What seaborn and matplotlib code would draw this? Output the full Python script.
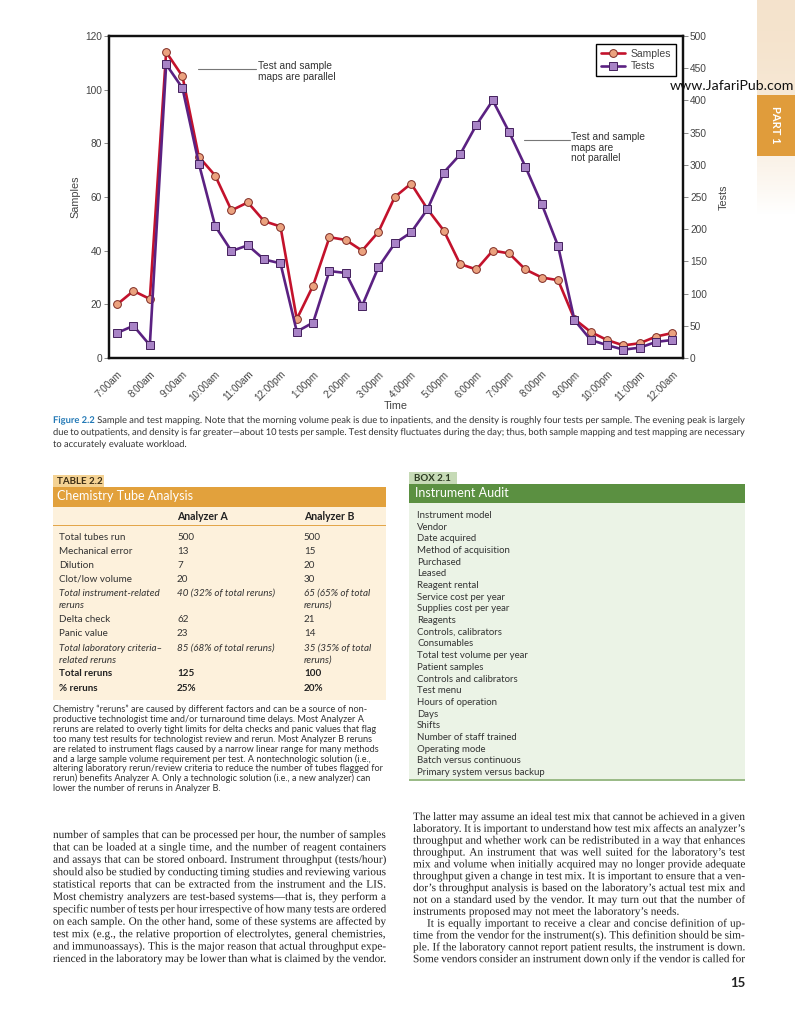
import numpy as np
import pandas as pd
import matplotlib
matplotlib.use("Agg")
import matplotlib.pyplot as plt
import matplotlib.transforms as mtransforms
import matplotlib.patheffects as pe
from matplotlib.patches import Rectangle
from matplotlib import font_manager
import seaborn as sns

# ---------------- chart data ----------------
hour_labels = ["7:00am", "8:00am", "9:00am", "10:00am", "11:00am", "12:00pm",
               "1:00pm", "2:00pm", "3:00pm", "4:00pm", "5:00pm", "6:00pm",
               "7:00pm", "8:00pm", "9:00pm", "10:00pm", "11:00pm", "12:00am"]
samples = [20, 25, 22, 114, 105, 75, 68, 55, 58, 51, 49, 14.5, 27, 45, 44, 40, 47,
           60, 65, 55.5, 47.5, 35, 33, 40, 39, 33, 30, 29, 14.5, 9.7, 6.7, 4.7, 5.5, 8, 9.3]
tests = [39, 50, 20, 456, 419, 302, 205, 166, 175, 153, 147, 41, 55, 135, 132, 81, 141,
         178, 195, 231, 288, 316, 362, 400, 351, 297, 239, 174, 59, 28, 20, 13, 16, 25, 28]
samples_ticks = [0, 20, 40, 60, 80, 100, 120]
tests_ticks = [0, 50, 100, 150, 200, 250, 300, 350, 400, 450, 500]

# ---------------- page text ----------------
caption_lines = [
    "Figure 2.2 Sample and test mapping. Note that the morning volume peak is due to inpatients, and the density is roughly four tests per sample. The evening peak is largely",
    "due to outpatients, and density is far greater\u2014about 10 tests per sample. Test density fluctuates during the day; thus, both sample mapping and test mapping are necessary",
    "to accurately evaluate workload.",
]
table_rows = ["Total tubes run", "Mechanical error", "Dilution", "Clot/low volume",
              "Total instrument-related\nreruns", "Delta check", "Panic value",
              "Total laboratory criteria\u2013\nrelated reruns", "Total reruns", "% reruns"]
table_a = ["500", "13", "7", "20", "40 (32% of total reruns)", "62", "23",
           "85 (68% of total reruns)", "125", "25%"]
table_b = ["500", "15", "20", "30", "65 (65% of total\nreruns)", "21", "14",
           "35 (35% of total\nreruns)", "100", "20%"]
table_style = ["normal", "normal", "normal", "normal", "italic", "normal", "normal",
               "italic", "bold", "bold"]
table_note = [
    "Chemistry \u201creruns\u201d are caused by different factors and can be a source of non-",
    "productive technologist time and/or turnaround time delays. Most Analyzer A",
    "reruns are related to overly tight limits for delta checks and panic values that flag",
    "too many test results for technologist review and rerun. Most Analyzer B reruns",
    "are related to instrument flags caused by a narrow linear range for many methods",
    "and a large sample volume requirement per test. A nontechnologic solution (i.e.,",
    "altering laboratory rerun/review criteria to reduce the number of tubes flagged for",
    "rerun) benefits Analyzer A. Only a technologic solution (i.e., a new analyzer) can",
    "lower the number of reruns in Analyzer B.",
]
box_items = ["Instrument model", "Vendor", "Date acquired", "Method of acquisition",
             "Purchased", "Leased", "Reagent rental", "Service cost per year",
             "Supplies cost per year", "Reagents", "Controls, calibrators", "Consumables",
             "Total test volume per year", "Patient samples", "Controls and calibrators",
             "Test menu", "Hours of operation", "Days", "Shifts", "Number of staff trained",
             "Operating mode", "Batch versus continuous", "Primary system versus backup"]
body_left = [
    "number of samples that can be processed per hour, the number of samples",
    "that can be loaded at a single time, and the number of reagent containers",
    "and assays that can be stored onboard. Instrument throughput (tests/hour)",
    "should also be studied by conducting timing studies and reviewing various",
    "statistical reports that can be extracted from the instrument and the LIS.",
    "Most chemistry analyzers are test-based systems\u2014that is, they perform a",
    "specific number of tests per hour irrespective of how many tests are ordered",
    "on each sample. On the other hand, some of these systems are affected by",
    "test mix (e.g., the relative proportion of electrolytes, general chemistries,",
    "and immunoassays). This is the major reason that actual throughput expe-",
    "rienced in the laboratory may be lower than what is claimed by the vendor.",
]
body_right = [
    "The latter may assume an ideal test mix that cannot be achieved in a given",
    "laboratory. It is important to understand how test mix affects an analyzer\u2019s",
    "throughput and whether work can be redistributed in a way that enhances",
    "throughput. An instrument that was well suited for the laboratory\u2019s test",
    "mix and volume when initially acquired may no longer provide adequate",
    "throughput given a change in test mix. It is important to ensure that a ven-",
    "dor\u2019s throughput analysis is based on the laboratory\u2019s actual test mix and",
    "not on a standard used by the vendor. It may turn out that the number of",
    "instruments proposed may not meet the laboratory\u2019s needs.",
    "It is equally important to receive a clear and concise definition of up-",
    "time from the vendor for the instrument(s). This definition should be sim-",
    "ple. If the laboratory cannot report patient results, the instrument is down.",
    "Some vendors consider an instrument down only if the vendor is called for",
]

# ---------------- setup ----------------
sns.set_style("white")
plt.rcParams['font.family'] = ['Liberation Sans', 'DejaVu Sans']
names = {f.name for f in font_manager.fontManager.ttflist}
SANS2 = ['Lato', 'Liberation Sans', 'DejaVu Sans']
NARROW = ['Liberation Sans Narrow', 'Lato', 'DejaVu Sans'] if 'Liberation Sans Narrow' in names else SANS2
SERIF = ['Liberation Serif', 'DejaVu Serif']
AS_PATH = [pe.Normal()]   # exact baseline placement for word-by-word justified text

W, H = 795, 1010
fig = plt.figure(figsize=(W / 100, H / 100), dpi=100)
fig.patch.set_facecolor("white")
R = fig.canvas.get_renderer()


def tw(s, **kw):
    t = fig.text(0, 0, s, **kw)
    w = t.get_window_extent(R).width
    t.remove()
    return w


def put(x, y, s, **kw):
    return fig.text(x / W, 1 - y / H, s, **kw)


def rect(x0, y0, x1, y1, color, z=0.2):
    fig.add_artist(Rectangle((x0 / W, 1 - y1 / H), (x1 - x0) / W, (y1 - y0) / H,
                             transform=fig.transFigure, facecolor=color,
                             edgecolor="none", zorder=z))


def fit(lines, target, **kw):
    k = dict(kw)
    k['fontsize'] = 10
    w = max(tw(l, **k) for l in lines)
    return 10 * target / w


def para_line(x0, x1, y, text, just, indent=0, styles=None, **kw):
    words = text.split(' ')
    kws = [dict(kw, **(styles.get(i, {}) if styles else {})) for i in range(len(words))]
    widths = [tw(w, **k) for w, k in zip(words, kws)]
    if just and len(words) > 1:
        gap = (x1 - x0 - indent - sum(widths)) / (len(words) - 1)
    else:
        gap = tw('a a', **kw) - tw('aa', **kw)
    x = x0 + indent
    for w, k, wd in zip(words, kws, widths):
        put(x, y, w, ha='left', va='baseline', path_effects=AS_PATH, **k)
        x += wd + gap


# ---------------- chart ----------------
RED, RED_FACE, RED_EDGE = "#c3122c", "#eba27f", "#7e2a22"
PUR, PUR_FACE, PUR_EDGE = "#5b2182", "#a883c6", "#43205c"
GRAY_TXT = "#444444"

ax = fig.add_axes([109 / W, 1 - 358 / H, (683 - 109) / W, (358 - 36) / H])
ax2 = ax.twinx()

df = pd.DataFrame({"slot": np.arange(len(samples)), "Samples": samples, "Tests": tests})
sns.lineplot(data=df, x="slot", y="Samples", ax=ax, color=RED, linewidth=1.9,
             marker="o", markersize=5.6, markerfacecolor=RED_FACE,
             markeredgecolor=RED_EDGE, markeredgewidth=0.7, label="Samples", legend=False)
sns.lineplot(data=df, x="slot", y="Tests", ax=ax2, color=PUR, linewidth=1.9,
             marker="s", markersize=5.2, markerfacecolor=PUR_FACE,
             markeredgecolor=PUR_EDGE, markeredgewidth=0.7, label="Tests", legend=False)

ax.set_xlim(-0.5, 34.65)
ax.set_ylim(0, 120)
ax2.set_ylim(0, 500)
ax.set_yticks(samples_ticks)
ax2.set_yticks(tests_ticks)
ax.set_xticks(range(0, len(samples), 2))
ax.set_xticklabels(hour_labels, rotation=45, ha="right", rotation_mode="anchor")
off = mtransforms.ScaledTranslation(-3 / 100, 0, fig.dpi_scale_trans)
for lab in ax.get_xticklabels():
    lab.set_transform(lab.get_transform() + off)

ax.tick_params(axis="x", length=0, pad=8, labelsize=7.1, labelcolor=GRAY_TXT)
ax.tick_params(axis="y", length=3.5, width=0.6, color="#777777", pad=1.5,
               labelsize=7.3, labelcolor=GRAY_TXT, left=True)
ax2.tick_params(axis="y", length=3.5, width=0.6, color="#777777", pad=1.5,
                labelsize=7.3, labelcolor=GRAY_TXT, right=True)

for a in (ax, ax2):
    for s in a.spines.values():
        s.set_visible(True)
        s.set_color("#111111")
        s.set_linewidth(1.6)

ax.set_xlabel("Time", fontsize=7.8, color=GRAY_TXT)
ax.set_ylabel("Samples", fontsize=7.8, color=GRAY_TXT)
ax2.set_ylabel("Tests", fontsize=7.8, color=GRAY_TXT)
ax.xaxis.set_label_coords(0.5, -0.135)
ax.yaxis.set_label_coords(-0.05, 0.5)
ax2.yaxis.set_label_coords(1.062, 0.5)

handles = [ax.lines[0], ax2.lines[0]]
leg = ax2.legend(handles, ["Samples", "Tests"], loc="upper right",
                 bbox_to_anchor=(0.988, 0.975), borderaxespad=0, fontsize=7.5,
                 frameon=True, fancybox=False, edgecolor="black", framealpha=1,
                 handlelength=2.3, labelspacing=0.25, borderpad=0.45, handletextpad=0.6)
leg.get_frame().set_linewidth(1.0)
for t in leg.get_texts():
    t.set_color(GRAY_TXT)

# annotations
ax.plot([4.95, 8.5], [107.8, 107.8], color="#777777", lw=0.8)
ax.text(8.6, 110.6, "Test and sample\nmaps are parallel", fontsize=7.3,
        color="#333333", va="top", ha="left", linespacing=1.05)
ax.plot([24.9, 27.7], [81.2, 81.2], color="#777777", lw=0.8)
ax.text(27.8, 84.1, "Test and sample\nmaps are\nnot parallel", fontsize=7.3,
        color="#333333", va="top", ha="left", linespacing=1.05)

# ---------------- caption ----------------
cap_kw = dict(family=NARROW, color="#333333")
cap_size = fit(caption_lines[:2], 692, **cap_kw) * 1.015
cap_kw['fontsize'] = cap_size
blue = dict(color="#2379b6", weight="bold")
para_line(53, 745, 423, caption_lines[0], True, styles={0: blue, 1: blue}, **cap_kw)
para_line(53, 745, 435, caption_lines[1], True, **cap_kw)
para_line(53, 745, 447, caption_lines[2], False, **cap_kw)

# ---------------- table 2.2 ----------------
rect(53, 475, 104, 487, "#f4d293")
put(57, 484, "TABLE 2.2", family=SANS2, weight="bold", fontsize=7, color="#3b2c14")
rect(53, 487, 386, 507, "#e2a13c")
put(57, 500.5, "Chemistry Tube Analysis", family=SANS2, fontsize=9, color="white")
rect(53, 507, 386, 700, "#fdf1dc")
rect(53, 524.5, 386, 526, "#e3a64a", z=0.3)
put(177, 520.5, "Analyzer A", family=SANS2, weight="bold", fontsize=7.6, color="#222222")
put(304, 520.5, "Analyzer B", family=SANS2, weight="bold", fontsize=7.6, color="#222222")
row_y = [540, 554, 568, 582, 596, 622, 636, 651, 676, 691]
for lab, a_val, b_val, st, y in zip(table_rows, table_a, table_b, table_style, row_y):
    kw = dict(family=SANS2, fontsize=7.1, color="#333333")
    if st == "italic":
        kw["style"] = "italic"
    elif st == "bold":
        kw["weight"] = "bold"
        kw["color"] = "#222222"
    for x, txt in ((59, lab), (177, a_val), (304, b_val)):
        for i, ln in enumerate(txt.split("\n")):
            put(x, y + 12 * i, ln, va="baseline", ha="left", **kw)

note_kw = dict(family=SANS2, color="#333333")
note_kw['fontsize'] = fit([table_note[6]], 330, **note_kw)
for i, ln in enumerate(table_note):
    put(53, 712 + 9.9 * i, ln, va="baseline", ha="left", **note_kw)

# ---------------- box 2.1 ----------------
rect(409, 472, 457, 484, "#c6dab6")
put(414, 481, "BOX 2.1", family=SANS2, weight="bold", fontsize=7, color="#2c3a22")
rect(409, 484, 745, 503, "#5b9041")
put(415, 497, "Instrument Audit", family=SANS2, fontsize=9, color="white")
rect(409, 503, 745, 780, "#ebf3e6")
rect(409, 779, 745, 781, "#9bbb88", z=0.3)
box_kw = dict(family=SANS2, color="#333333")
box_kw['fontsize'] = fit(["Primary system versus backup"], 128, **box_kw)
for i, it in enumerate(box_items):
    put(417, 518 + 11.68 * i, it, va="baseline", ha="left", **box_kw)

# ---------------- body text ----------------
body_kw = dict(family=SERIF, color="#222222")
just_lines = body_left + [l for i, l in enumerate(body_right) if i not in (8, 9)]
body_kw['fontsize'] = fit(just_lines, 333, **body_kw) * 1.03
for i, ln in enumerate(body_left):
    para_line(53, 386, 838 + 12.4 * i, ln, True, **body_kw)
for i, ln in enumerate(body_right):
    indent = 14 if i == 9 else 0
    para_line(413, 745, 820 + 11.85 * i, ln, i != 8, indent=indent, **body_kw)

put(745, 987, "15", family=SANS2, weight="bold", fontsize=9.5, color="#222222",
    ha="right", va="baseline")

# ---------------- page decoration (right margin) ----------------
grad = np.linspace(0, 1, 100)[:, None]
c0 = np.array([0.96, 0.89, 0.80])
img = np.ones((100, 10, 3)) * (c0 * (1 - grad[:, :, None] ** 2) + np.ones(3) * grad[:, :, None] ** 2)
dax = fig.add_axes([757 / W, 1 - 215 / H, 38 / W, 215 / H], zorder=-1)
dax.imshow(img, aspect="auto", interpolation="bilinear")
dax.set_axis_off()
rect(757, 95, 795, 156, "#e09c3b", z=1)
put(776, 125, "PART 1", family=SANS2, weight="bold", fontsize=8, color="white",
    rotation=270, ha="center", va="center")
put(670, 90, "www.JafariPub.com", family=SANS2, fontsize=10.2, color="#111111",
    ha="left", va="baseline")

fig.savefig("out.png", dpi=100)
